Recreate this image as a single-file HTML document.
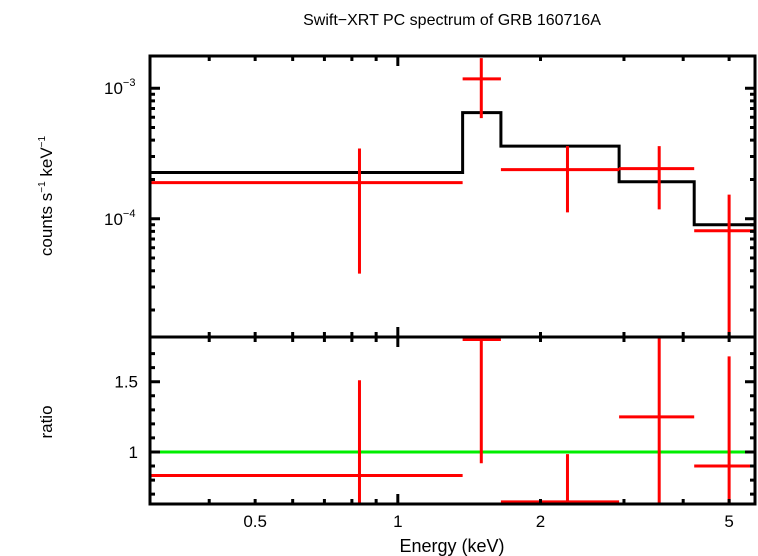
<!DOCTYPE html>
<html><head><meta charset="utf-8"><style>
body{margin:0;background:#fff}
svg{display:block;font-family:"Liberation Sans",sans-serif}
</style></head><body>
<svg id="c" width="758" height="556">
<text x="452" y="25" font-size="16" text-anchor="middle">Swift−XRT PC spectrum of GRB 160716A</text>
<text x="452" y="552" font-size="18" text-anchor="middle">Energy (keV)</text>
<text transform="translate(52,196) rotate(-90)" font-size="17" text-anchor="middle">counts s<tspan font-size="10" dy="-7">−1</tspan><tspan dy="7"> keV</tspan><tspan font-size="10" dy="-7">−1</tspan></text>
<text transform="translate(52,422) rotate(-90)" font-size="17" text-anchor="middle">ratio</text>
</svg>
<script>
const binLo=[0.3,1.37,1.65,2.93,4.22];
const binHi=[1.37,1.65,2.93,4.22,5.67];
const binCenter=[0.83,1.5,2.28,3.56,5.0];
const modelVals=[2.26e-4,6.5e-4,3.6e-4,1.92e-4,9.0e-5];
const dataVals=[1.89e-4,1.18e-3,2.38e-4,2.42e-4,8.1e-5];
const dataHi=[3.45e-4,1.7e-3,3.6e-4,3.6e-4,1.53e-4];
const dataLo=[3.8e-5,5.9e-4,1.12e-4,1.18e-4,1e-6];
const ratioVals=[0.833,1.80,0.645,1.25,0.90];
const ratioHi=[1.51,2.5,0.985,2.5,1.68];
const ratioLo=[0.3,0.92,0.3,0.3,0.3];
const xTicks=[0.5,1,2,5];
const xTickLabels=["0.5","1","2","5"];
const rTicks=[1,1.5];
const rTickLabels=["1","1.5"];

const L=150,R=755,T1=56,B1=337,T2=337,B2=504;
const xMin=0.3,xMax=5.67,yMin=Math.pow(10,-4.906),yMax=Math.pow(10,-2.753),rMin=0.63,rMax=1.818;
const X=v=>L+(Math.log10(v)-Math.log10(xMin))/(Math.log10(xMax)-Math.log10(xMin))*(R-L);
const Y=v=>{const l=Math.log10(Math.max(v,1e-9));return T1+(Math.log10(yMax)-l)/(Math.log10(yMax)-Math.log10(yMin))*(B1-T1);};
const YR=v=>T2+(rMax-v)/(rMax-rMin)*(B2-T2);
const svg=document.getElementById('c');
const NS='http://www.w3.org/2000/svg';
function el(tag,a,parent){const e=document.createElementNS(NS,tag);for(const k in a)e.setAttribute(k,a[k]);(parent||svg).appendChild(e);return e;}
function clip(id,y0,y1){const cp=el('clipPath',{id:id});el('rect',{x:L,y:y0,width:R-L,height:y1-y0},cp);}
clip('c1',T1,B1);clip('c2',T2,B2);
const g1=el('g',{'clip-path':'url(#c1)'});


const g2=el('g',{'clip-path':'url(#c2)'});



// model step
let d='';
binLo.forEach((lo,i)=>{d+=(i?'L':'M')+X(lo)+' '+Y(modelVals[i])+' L'+X(binHi[i])+' '+Y(modelVals[i])+' ';});
const m=el('path',{d:d,fill:'none',stroke:'#000','stroke-width':3},g1);


// data crosses
binLo.forEach((lo,i)=>{
 const p=el('path',{d:`M${X(lo)} ${Y(dataVals[i])}H${X(binHi[i])}M${X(binCenter[i])} ${Y(dataHi[i])}V${Y(dataLo[i])}`,stroke:'#f00','stroke-width':3,fill:'none'},g1);
 
 
});
const gl=el('line',{x1:L,x2:R,y1:YR(1),y2:YR(1),stroke:'#0e0','stroke-width':3},g2);


binLo.forEach((lo,i)=>{
 const p=el('path',{d:`M${X(lo)} ${YR(ratioVals[i])}H${X(binHi[i])}M${X(binCenter[i])} ${YR(ratioHi[i])}V${YR(ratioLo[i])}`,stroke:'#f00','stroke-width':3,fill:'none'},g2);
 
 
});
// frames
[[T1,B1],[T2,B2]].forEach(([t,b],k)=>{
 const r=el('rect',{x:L,y:t,width:R-L,height:b-t,fill:'none',stroke:'#000','stroke-width':3});
 
 
});
let tk='';
// x ticks
for(let dec=0.1;dec<10;dec*=10){for(let k=1;k<10;k++){const v=dec*k;if(v<xMin||v>xMax)continue;const x=X(v);const len=(k===1)?10:5;
 tk+=`M${x} ${B1}v${-len}M${x} ${T1}v${len}M${x} ${B2}v${-len}M${x} ${T2}v${len}M${x} ${B1}v${len}`;}}
// y ticks top
for(let e=-5;e<-2;e++){for(let k=1;k<10;k++){const v=k*Math.pow(10,e);if(v<yMin||v>yMax)continue;const y=Y(v);const len=k===1?10:5;tk+=`M${L} ${y}h${len}M${R} ${y}h${-len}`;}}
for(let v=0.7;v<=1.8;v+=0.1){const y=YR(v);const big=Math.abs(v-1)<0.01||Math.abs(v-1.5)<0.01;const len=big?10:5;tk+=`M${L} ${y}h${len}M${R} ${y}h${-len}`;}
const tp=el('path',{d:tk,stroke:'#000','stroke-width':3,fill:'none'});


xTicks.forEach((v,i)=>{const t=el('text',{x:X(v),y:527,'font-size':17,'text-anchor':'middle'});t.textContent=xTickLabels[i];
 
 });
rTicks.forEach((v,i)=>{const t=el('text',{x:138,y:YR(v)+6,'font-size':17,'text-anchor':'end'});t.textContent=rTickLabels[i];
 
 });
[-3,-4].forEach(e=>{const t=el('text',{x:104,y:Y(Math.pow(10,e))+6,'font-size':17});t.innerHTML='10<tspan font-size="11" dy="-8">'+(e===-3?'−3':'−4')+'</tspan>';
 
 });
</script>
</body></html>
